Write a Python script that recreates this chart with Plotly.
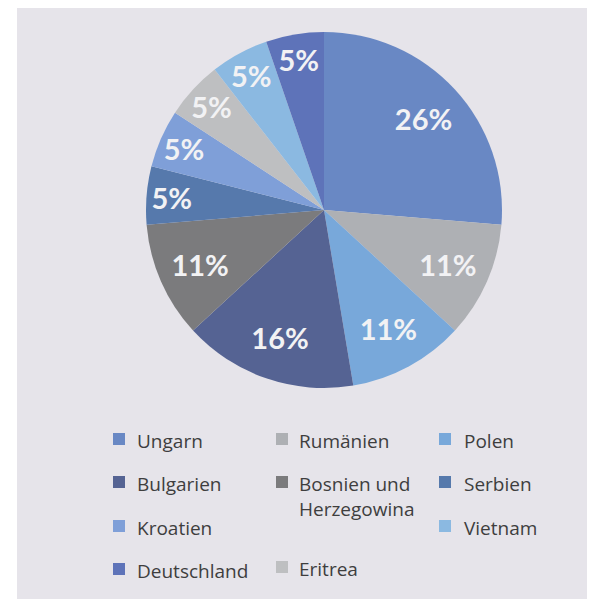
import plotly.graph_objects as go

labels = ["Ungarn", "Rumänien", "Polen", "Bulgarien", "Bosnien und Herzegowina",
          "Serbien", "Kroatien", "Eritrea", "Vietnam", "Deutschland"]
values = [5, 2, 2, 3, 2, 1, 1, 1, 1, 1]
colors = ["#6988C4", "#AEB0B4", "#78A8DA", "#556393", "#7B7B7D",
          "#5679AC", "#7F9FD8", "#BEBFC1", "#8BB9E1", "#5E73B9"]

# legend layout (row, column) in the reference's grid
legend_order = ["Ungarn", "Rumänien", "Polen",
                "Bulgarien", "Bosnien und Herzegowina", "Serbien",
                "Kroatien", None, "Vietnam",
                "Deutschland", "Eritrea", None]

# the page body has an 8px margin; the figure is sized to fill the rest of the window
OFF = 8
W, H = 595 - OFF, 599 - OFF


def px(x):
    return (x - OFF) / W


def py(y):
    return 1 - (y - OFF) / H


dom = dict(x=[px(146), px(502)], y=[py(388), py(32)])

fig = go.Figure()
fig.add_trace(go.Pie(
    labels=labels, values=values, sort=False, direction="clockwise", rotation=0,
    marker=dict(colors=colors, line=dict(width=0)),
    textinfo="none", domain=dom, showlegend=False, hoverinfo="label+percent",
))
# transparent ring carrying the percentage labels further out in each slice
fig.add_trace(go.Pie(
    labels=labels, values=values, sort=False, direction="clockwise", rotation=0,
    hole=0.52,
    marker=dict(colors=["rgba(0,0,0,0)"] * len(values), line=dict(width=0)),
    texttemplate="%{percent:.0%}", textposition="inside",
    insidetextorientation="horizontal",
    textfont=dict(family="Lato", size=29, color="#F2F2F4", weight="bold"),
    domain=dom, showlegend=False, hoverinfo="skip",
))

shapes = [dict(type="rect", xref="paper", yref="paper", x0=px(17), x1=1, y0=0, y1=py(8),
               fillcolor="#E6E4EA", line=dict(width=0), layer="below")]
annotations = []
col_sq = [113, 276, 439]
col_tx = [135, 297, 462]
row_y = [439, 482, 526, 569]
color_of = dict(zip(labels, colors))
for i, name in enumerate(legend_order):
    if name is None:
        continue
    r, c = divmod(i, 3)
    y = row_y[r]
    if name == "Eritrea":
        y -= 2
    shapes.append(dict(type="rect", xref="paper", yref="paper",
                       x0=px(col_sq[c]), x1=px(col_sq[c] + 12),
                       y0=py(y + 6), y1=py(y - 6),
                       fillcolor=color_of[name], line=dict(width=0)))
    text = name.replace("Bosnien und ", "Bosnien und<br>")
    annotations.append(dict(xref="paper", yref="paper", x=px(col_tx[c]), y=py(y - 13),
                            xanchor="left", yanchor="top", text=text, showarrow=False,
                            align="left",
                            font=dict(family="Open Sans", size=19, color="#3E3E3E")))

fig.update_layout(width=W, height=H, margin=dict(l=0, r=0, t=0, b=0),
                  paper_bgcolor="white", plot_bgcolor="white",
                  uniformtext=dict(minsize=29, mode="show"),
                  shapes=shapes, annotations=annotations)

fig.write_html("out.html")
